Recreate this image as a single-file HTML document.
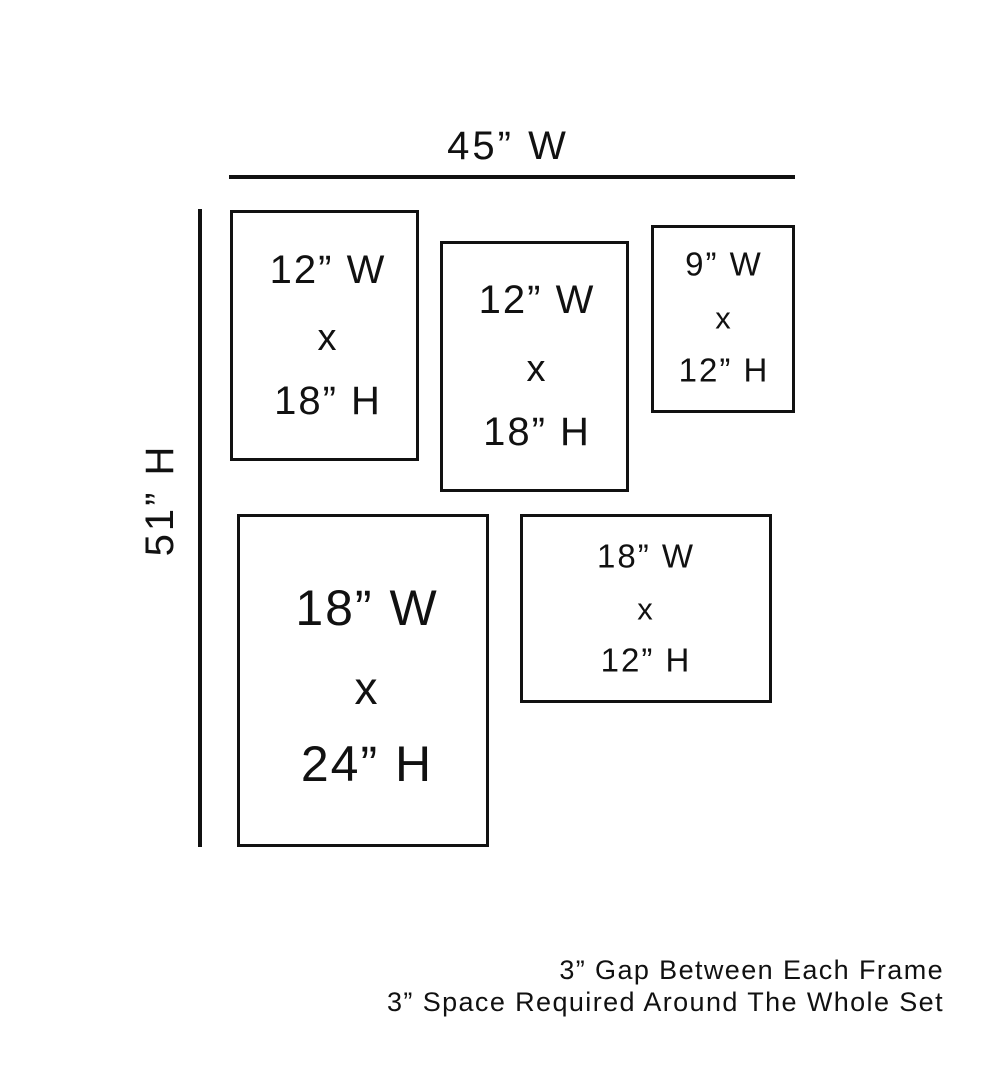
<!DOCTYPE html>
<html><head><meta charset="utf-8"><style>
html,body{margin:0;padding:0;background:#fff;}
body{width:1000px;height:1081px;position:relative;overflow:hidden;font-family:"Liberation Sans",sans-serif;color:#111;}
.b{position:absolute;border:3px solid #111;box-sizing:border-box;}
.t{position:absolute;white-space:nowrap;transform:translate(-50%,-50%);line-height:1;letter-spacing:2px;}
.l{position:absolute;background:#111;}
</style></head><body>
<div class="l" style="left:229px;top:175px;width:566px;height:4px"></div>
<div class="l" style="left:198px;top:209px;width:4px;height:638px"></div>
<div class="t" style="left:508px;top:146px;font-size:40px;letter-spacing:3px">45” W</div>
<div class="t" style="left:160px;top:500px;font-size:40px;letter-spacing:3px;transform:translate(-50%,-50%) rotate(-90deg)">51” H</div>

<div class="b" style="left:230px;top:210px;width:189px;height:251px"></div>
<div class="t" style="left:328px;top:270px;font-size:40px">12” W</div>
<div class="t" style="left:328px;top:338px;font-size:38px">x</div>
<div class="t" style="left:328px;top:401px;font-size:40px">18” H</div>

<div class="b" style="left:440px;top:241px;width:189px;height:251px"></div>
<div class="t" style="left:537px;top:300px;font-size:40px">12” W</div>
<div class="t" style="left:537px;top:369px;font-size:38px">x</div>
<div class="t" style="left:537px;top:432px;font-size:40px">18” H</div>

<div class="b" style="left:651px;top:225px;width:144px;height:188px"></div>
<div class="t" style="left:724px;top:264px;font-size:33px">9” W</div>
<div class="t" style="left:724px;top:318px;font-size:31px">x</div>
<div class="t" style="left:724px;top:370px;font-size:33px">12” H</div>

<div class="b" style="left:237px;top:514px;width:252px;height:333px"></div>
<div class="t" style="left:367px;top:608px;font-size:50px">18” W</div>
<div class="t" style="left:367px;top:688px;font-size:46px">x</div>
<div class="t" style="left:367px;top:764px;font-size:50px">24” H</div>

<div class="b" style="left:520px;top:514px;width:252px;height:189px"></div>
<div class="t" style="left:646px;top:556px;font-size:33px">18” W</div>
<div class="t" style="left:646px;top:609px;font-size:31px">x</div>
<div class="t" style="left:646px;top:660px;font-size:33px">12” H</div>

<div style="position:absolute;right:56px;top:954px;text-align:right;font-size:27px;line-height:32px;letter-spacing:1.4px;">3” Gap Between Each Frame<br>3” Space Required Around The Whole Set</div>
</body></html>
